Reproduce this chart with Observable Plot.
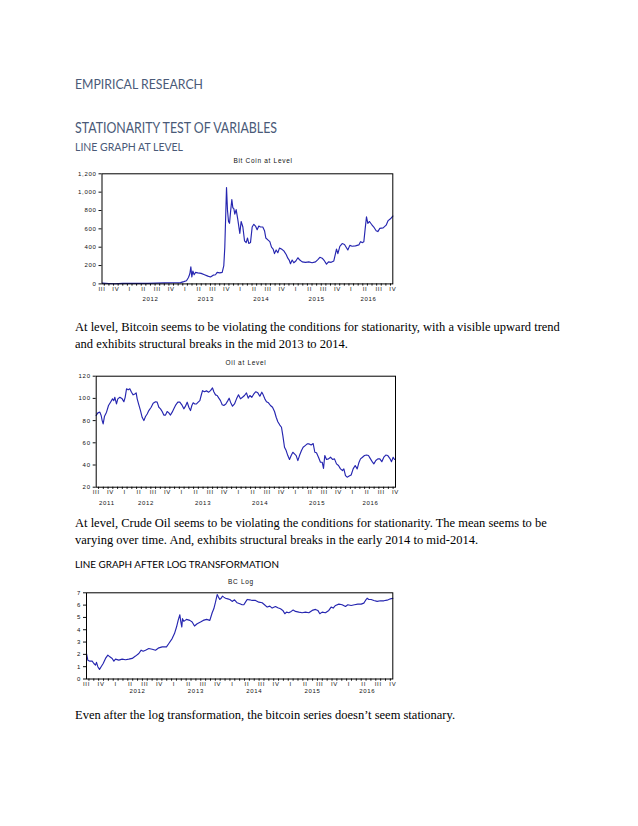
<!DOCTYPE html>
<html><head><meta charset="utf-8">
<script src="https://cdn.jsdelivr.net/npm/d3@7"></script>
<script src="https://cdn.jsdelivr.net/npm/@observablehq/plot@0.6"></script>
<style>
body{margin:0;background:#fff;}
#page{position:relative;width:638px;height:826px;overflow:hidden;background:#fff;}
#page svg{position:absolute;left:0;}
</style></head><body><div id="page"></div>
<script>
// ---------- DATA (decimal year, value) ----------
const btcLevel = [
[2011.63,8],[2011.75,4],[2011.85,2],[2012.0,6],[2012.15,5],[2012.3,5],[2012.45,6],[2012.6,8],[2012.75,11],[2012.9,13],
[2013.042,14],[2013.102,25],[2013.150,35],[2013.186,70],[2013.211,110],[2013.229,185],[2013.247,75],[2013.265,140],[2013.289,100],[2013.313,125],
[2013.355,120],[2013.415,115],[2013.475,100],[2013.536,85],[2013.584,75],[2013.632,95],[2013.674,100],[2013.704,125],[2013.752,120],[2013.795,125],
[2013.824,200],[2013.842,400],[2013.861,800],[2013.873,1050],[2013.891,800],[2013.909,680],[2013.927,660],[2013.945,780],[2013.969,920],[2013.987,830],
[2014.005,820],[2014.023,760],[2014.047,810],[2014.077,700],[2014.113,550],[2014.137,680],[2014.168,620],[2014.198,470],[2014.228,450],[2014.252,500],
[2014.276,440],[2014.306,450],[2014.336,620],[2014.366,650],[2014.396,630],[2014.426,590],[2014.456,630],[2014.486,620],[2014.528,620],[2014.559,580],
[2014.583,500],[2014.619,480],[2014.655,460],[2014.685,400],[2014.715,380],[2014.739,330],[2014.769,370],[2014.799,340],[2014.829,390],[2014.865,380],
[2014.908,360],[2014.950,320],[2014.980,280],[2015.004,260],[2015.028,220],[2015.058,260],[2015.088,230],[2015.125,250],[2015.161,285],[2015.197,260],
[2015.239,240],[2015.299,235],[2015.359,240],[2015.419,230],[2015.480,240],[2015.522,265],[2015.558,290],[2015.600,280],[2015.642,250],[2015.678,215],
[2015.714,240],[2015.762,235],[2015.810,250],[2015.840,330],[2015.858,380],[2015.883,330],[2015.919,410],[2015.961,440],[2016.003,430],[2016.033,400],
[2016.063,370],[2016.099,420],[2016.141,410],[2016.201,415],[2016.262,425],[2016.292,460],[2016.328,450],[2016.352,460],[2016.376,600],[2016.400,730],
[2016.424,660],[2016.454,680],[2016.490,650],[2016.532,620],[2016.574,580],[2016.605,570],[2016.641,605],[2016.701,610],[2016.755,640],[2016.791,690],
[2016.833,710],[2016.875,740]
];
const oilLevel = [
[2011.624,84.6],[2011.654,87],[2011.689,87.6],[2011.712,84.6],[2011.730,80],[2011.747,77],[2011.771,84],[2011.806,87.6],[2011.841,93.6],[2011.876,96.6],
[2011.911,99.6],[2011.934,98],[2011.952,101],[2011.981,95],[2012.004,99.6],[2012.040,101],[2012.081,99.6],[2012.110,97],[2012.133,101],[2012.157,108.6],
[2012.186,107.7],[2012.215,108.6],[2012.244,105.6],[2012.273,103.2],[2012.303,104],[2012.326,105],[2012.344,99.6],[2012.373,94.2],[2012.402,89],[2012.431,83],
[2012.461,80],[2012.490,83.7],[2012.519,86],[2012.548,89],[2012.589,92],[2012.624,95.7],[2012.665,97],[2012.694,96.6],[2012.724,92],[2012.753,90.6],
[2012.782,88.2],[2012.811,85],[2012.841,85],[2012.870,88.2],[2012.899,87],[2012.928,85],[2012.958,87.6],[2012.987,90.6],[2013.022,94.2],[2013.057,96.6],
[2013.092,96.6],[2013.127,94.2],[2013.162,90.6],[2013.191,93],[2013.221,96.6],[2013.250,92],[2013.279,89],[2013.303,93.6],[2013.326,96],[2013.355,95],
[2013.384,95],[2013.414,96.6],[2013.443,98],[2013.466,102.6],[2013.490,107],[2013.525,106],[2013.560,106.8],[2013.595,105.6],[2013.630,107],[2013.665,109.5],
[2013.688,106],[2013.718,103.2],[2013.747,102.6],[2013.776,100.2],[2013.805,98],[2013.835,94.2],[2013.864,93.6],[2013.899,95],[2013.934,98],[2013.957,100.2],
[2013.981,96.6],[2014.016,93],[2014.051,95],[2014.086,99.6],[2014.121,103.2],[2014.156,99.6],[2014.191,101],[2014.226,102.6],[2014.261,105],[2014.291,100.2],
[2014.320,102.6],[2014.355,101],[2014.390,104],[2014.425,106],[2014.460,105],[2014.495,102],[2014.530,105.6],[2014.554,103.2],[2014.583,99.6],[2014.612,97],
[2014.647,96],[2014.682,93.6],[2014.718,92],[2014.753,88.2],[2014.782,83],[2014.811,79],[2014.846,76],[2014.875,74],[2014.899,66.5],[2014.928,56],
[2014.957,53],[2014.986,48.5],[2015.016,45],[2015.045,48.5],[2015.074,51.5],[2015.103,50],[2015.133,48.5],[2015.162,44],[2015.191,48.5],[2015.226,53],
[2015.255,56],[2015.291,57.5],[2015.326,59],[2015.361,59],[2015.396,58],[2015.431,59.3],[2015.460,51.5],[2015.489,51],[2015.524,47],[2015.559,42.5],
[2015.589,42.5],[2015.612,37],[2015.635,48.5],[2015.665,45],[2015.700,45.5],[2015.735,47],[2015.770,45],[2015.805,45.5],[2015.840,41],[2015.875,39.5],
[2015.910,36.5],[2015.945,35],[2015.969,36.5],[2015.998,30.5],[2016.027,29],[2016.062,30],[2016.097,31],[2016.132,36.5],[2016.168,39.5],[2016.203,36.5],
[2016.232,42],[2016.261,45.5],[2016.296,47],[2016.331,48.5],[2016.366,49],[2016.401,48.5],[2016.436,45.5],[2016.472,42.5],[2016.495,41],[2016.530,44],
[2016.565,45.5],[2016.600,45.5],[2016.635,43],[2016.670,47],[2016.705,49],[2016.740,48.5],[2016.775,46],[2016.805,43],[2016.834,47],[2016.858,45]
];
const btcLog = [
[2011.625,2.07],[2011.648,1.53],[2011.682,1.45],[2011.722,1.45],[2011.751,1.26],[2011.779,1.13],[2011.796,1.35],[2011.819,1.0],[2011.848,0.78],[2011.876,1.0],
[2011.911,1.26],[2011.951,1.67],[2011.991,1.94],[2012.025,1.80],[2012.065,1.67],[2012.094,1.45],[2012.122,1.61],[2012.179,1.53],[2012.236,1.61],[2012.294,1.56],
[2012.351,1.61],[2012.408,1.67],[2012.465,1.86],[2012.522,2.07],[2012.562,2.34],[2012.596,2.26],[2012.636,2.34],[2012.693,2.48],[2012.751,2.42],[2012.808,2.34],
[2012.865,2.53],[2012.922,2.61],[2012.996,2.61],[2013.036,2.88],[2013.093,3.28],[2013.133,3.69],[2013.168,4.22],[2013.196,4.76],[2013.225,5.22],[2013.242,4.63],
[2013.259,4.22],[2013.270,4.90],[2013.293,4.68],[2013.339,4.84],[2013.396,4.76],[2013.436,4.63],[2013.476,4.30],[2013.522,4.49],[2013.579,4.63],[2013.625,4.76],
[2013.682,4.84],[2013.739,4.76],[2013.779,5.38],[2013.807,5.70],[2013.836,6.24],[2013.865,6.86],[2013.887,6.65],[2013.910,6.46],[2013.933,6.56],[2013.956,6.73],
[2013.979,6.65],[2014.007,6.56],[2014.047,6.51],[2014.082,6.46],[2014.122,6.30],[2014.162,6.43],[2014.207,6.19],[2014.253,6.11],[2014.293,6.03],[2014.322,6.03],
[2014.350,6.24],[2014.379,6.46],[2014.424,6.43],[2014.464,6.38],[2014.522,6.38],[2014.579,6.24],[2014.636,6.19],[2014.676,6.03],[2014.722,5.84],[2014.767,5.92],
[2014.807,5.76],[2014.864,5.89],[2014.904,5.78],[2014.950,5.70],[2014.990,5.57],[2015.024,5.30],[2015.053,5.43],[2015.093,5.38],[2015.133,5.49],[2015.167,5.60],
[2015.207,5.49],[2015.264,5.43],[2015.321,5.38],[2015.379,5.43],[2015.436,5.38],[2015.493,5.57],[2015.550,5.65],[2015.590,5.57],[2015.624,5.30],[2015.664,5.43],
[2015.721,5.38],[2015.778,5.57],[2015.818,5.84],[2015.853,5.76],[2015.893,5.97],[2015.950,6.08],[2016.007,6.03],[2016.064,5.89],[2016.104,6.03],[2016.161,5.97],
[2016.218,6.03],[2016.275,6.08],[2016.333,6.08],[2016.378,6.16],[2016.407,6.38],[2016.435,6.56],[2016.464,6.46],[2016.504,6.46],[2016.550,6.38],[2016.607,6.30],
[2016.664,6.35],[2016.721,6.35],[2016.778,6.40],[2016.835,6.51],[2016.876,6.56]
];
// tick labels
const quarterNames = ["I","II","III","IV"];
const btcYears = [2012,2013,2014,2015,2016];
const oilYears = [2011,2012,2013,2014,2015,2016];
const logYears = [2012,2013,2014,2015,2016];
const btcTicks = [0,200,400,600,800,1000,1200];
const oilTicks = [20,40,60,80,100,120];
const logTicks = [0,1,2,3,4,5,6,7];
const sampleStart = 2011.625, sampleEnd = 2016.875;

// ---------- AXIS HELPERS ----------
const quarters = [];
for (let y = 2011; y <= 2016; y++) for (let q = 0; q < 4; q++) {
  const c = y + q / 4 + 0.125;
  if (c >= sampleStart - 1e-6 && c <= sampleEnd + 1e-6) quarters.push({t: c, label: quarterNames[q]});
}
const months = d3.range(2011 * 12 + 8, 2016 * 12 + 11).map(m => m / 12);
const yearLabels = ys => ys.map(y => ({t: (Math.max(y, sampleStart) + Math.min(y + 1, sampleEnd)) / 2, label: String(y)}));

const page = document.getElementById("page");

function chart(o) {
  const data = o.series.map(([t, v]) => ({t, v}));
  const svg = Plot.plot({
    width: 638, height: o.height,
    marginLeft: o.left, marginRight: 638 - o.right,
    marginTop: o.frameTop - o.top, marginBottom: o.top + o.height - o.frameBottom,
    style: {fontFamily: "'Liberation Sans', Arial, sans-serif", fontSize: "6px", letterSpacing: "0.7px", color: "#111", background: "transparent", overflow: "visible"},
    x: {domain: [sampleStart, sampleEnd], label: null},
    y: {domain: o.yDomain, label: null},
    marks: [
      Plot.axisY({ticks: o.yTicks, tickSize: 3, tickPadding: 2.5, tickFormat: o.yFmt}),
      Plot.axisX({ticks: months, tickSize: 2.2, tickFormat: () => ""}),
      Plot.text(quarters, {x: "t", text: "label", frameAnchor: "bottom", dy: o.qDy}),
      Plot.text(yearLabels(o.years), {x: "t", text: "label", frameAnchor: "bottom", dy: o.yDy}),
      Plot.line(data, {x: "t", y: "v", stroke: "#2626b0", strokeWidth: 1.15}),
      Plot.frame({stroke: "#000", strokeWidth: 1})
    ]
  });
  svg.style.top = o.top + "px";
  page.appendChild(svg);
}

chart({series: btcLevel, yDomain: [0, 1200], yTicks: btcTicks, yFmt: d3.format(","), years: btcYears,
  top: 150, height: 160, left: 101.5, right: 392.3, frameTop: 173.3, frameBottom: 283.4, qDy: 7, yDy: 17.5});
chart({series: oilLevel, yDomain: [20, 120], yTicks: oilTicks, yFmt: d3.format("d"), years: oilYears,
  top: 360, height: 160, left: 95.7, right: 395, frameTop: 375.7, frameBottom: 486.7, qDy: 6.5, yDy: 18});
chart({series: btcLog, yDomain: [0, 7], yTicks: logTicks, yFmt: d3.format("d"), years: logYears,
  top: 580, height: 125, left: 86, right: 392.3, frameTop: 592.3, frameBottom: 678.5, qDy: 7, yDy: 14});

// ---------- PAGE TEXT ----------
const txt = d3.select(page).append("svg").attr("width", 638).attr("height", 826).style("top", "0px").lower();
const heading = "'Lato', 'Open Sans', sans-serif";
const serif = "'Liberation Serif', 'Times New Roman', serif";
const items = [
  {s: "EMPIRICAL RESEARCH", x: 75, y: 89.3, f: heading, size: 13, c: "#4a5a78", w: 128},
  {s: "STATIONARITY TEST OF VARIABLES", x: 75, y: 133, f: heading, size: 14.5, c: "#4a5a78", w: 202},
  {s: "LINE GRAPH AT LEVEL", x: 75, y: 151, f: heading, size: 11.2, c: "#4a5a78", w: 108},
  {s: "At level, Bitcoin seems to be violating the conditions for stationarity, with a visible upward trend", x: 75, y: 331, f: serif, size: 12.5, c: "#000"},
  {s: "and exhibits structural breaks in the mid 2013 to 2014.", x: 75, y: 347.5, f: serif, size: 12.5, c: "#000"},
  {s: "At level, Crude Oil seems to be violating the conditions for stationarity. The mean seems to be", x: 75, y: 527, f: serif, size: 12.5, c: "#000"},
  {s: "varying over time. And, exhibits structural breaks in the early 2014 to mid-2014.", x: 75, y: 543.5, f: serif, size: 12.5, c: "#000"},
  {s: "LINE GRAPH AFTER LOG TRANSFORMATION", x: 75, y: 567.7, f: heading, size: 10.3, c: "#000", w: 204},
  {s: "Even after the log transformation, the bitcoin series doesn\u2019t seem stationary.", x: 75, y: 719, f: serif, size: 12.5, c: "#000"}
];
for (const it of items) {
  const t = txt.append("text").attr("x", it.x).attr("y", it.y).attr("font-family", it.f)
    .attr("font-size", it.size).attr("fill", it.c).text(it.s);
  if (it.w) t.attr("textLength", it.w).attr("lengthAdjust", "spacingAndGlyphs");
}
const titles = [
  {s: "Bit Coin at Level", x: 263, y: 163},
  {s: "Oil at Level", x: 246, y: 364.6},
  {s: "BC Log", x: 241, y: 584}
];
for (const it of titles) {
  txt.append("text").attr("x", it.x).attr("y", it.y).attr("text-anchor", "middle")
    .attr("font-family", "'Liberation Sans', Arial, sans-serif").attr("font-size", 6.5).attr("letter-spacing", "0.7px")
    .attr("fill", "#111").text(it.s);
}
</script></body></html>
